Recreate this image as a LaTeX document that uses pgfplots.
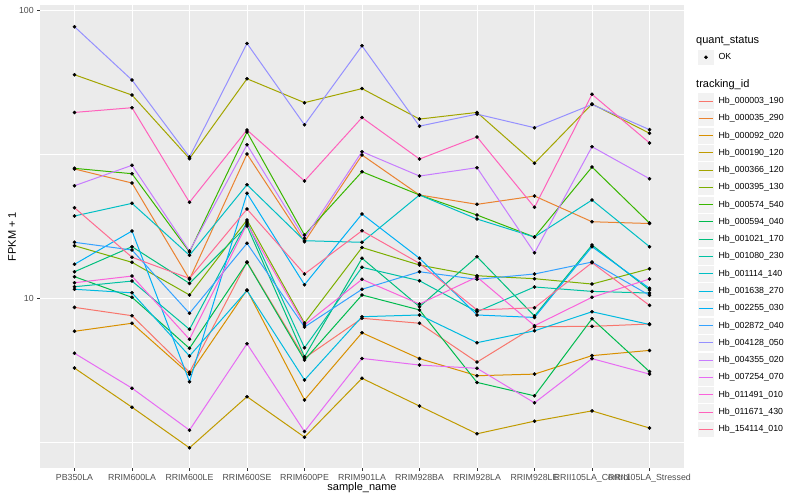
\documentclass[border=0pt]{standalone}
\usepackage{pgfplots}
\usepackage{pgfplotstable}
\usepackage{fontspec}
\setmainfont{Liberation Sans}
\pgfplotsset{compat=1.18}

\definecolor{ggbg}{HTML}{EBEBEB}
\definecolor{ggkey}{HTML}{F2F2F2}
\definecolor{gg30}{HTML}{4D4D4D}
\definecolor{gg20}{HTML}{333333}
\definecolor{c1}{HTML}{F8766D}
\definecolor{c2}{HTML}{EA8331}
\definecolor{c3}{HTML}{D89000}
\definecolor{c4}{HTML}{C09B00}
\definecolor{c5}{HTML}{A3A500}
\definecolor{c6}{HTML}{7CAE00}
\definecolor{c7}{HTML}{39B600}
\definecolor{c8}{HTML}{00BB4E}
\definecolor{c9}{HTML}{00BF7D}
\definecolor{c10}{HTML}{00C1A3}
\definecolor{c11}{HTML}{00BFC4}
\definecolor{c12}{HTML}{00BAE0}
\definecolor{c13}{HTML}{00B0F6}
\definecolor{c14}{HTML}{35A2FF}
\definecolor{c15}{HTML}{9590FF}
\definecolor{c16}{HTML}{C77CFF}
\definecolor{c17}{HTML}{E76BF3}
\definecolor{c18}{HTML}{FA62DB}
\definecolor{c19}{HTML}{FF62BC}
\definecolor{c20}{HTML}{FF6C91}

\newcommand\ggsmall{\fontsize{8.8}{10}\selectfont}
\newcommand\ggbig{\fontsize{11}{13}\selectfont}

% FPKM + 1 per sample (x = sample index 0..10), one column per tracking_id
\pgfplotstableread{
x  s1    s2    s3    s4    s5    s6    s7    s8    s9    s10   s11   s12   s13   s14   s15   s16   s17   s18   s19   s20
0  9.30  28.16 7.68  5.72  59.9  15.24 28.31 11.89 12.37 10.97 19.33 10.75 13.13 15.66 88.0  24.63 6.44  11.33 44.3  20.65
1  8.70  25.17 8.19  4.18  50.9  13.34 27.12 10.08 15.12 11.48 21.39 10.45 17.14 14.72 57.4  29.01 4.87  11.95 46.0  13.89
2  5.53  11.64 5.44  3.02  30.6  10.27 14.49 6.70  11.27 7.80  14.11 6.30  5.13  8.87  31.0  14.60 3.48  7.20  21.57 11.73
3  13.37 31.75 10.69 4.55  58.0  18.72 37.87 13.32 17.84 18.42 24.83 10.64 23.18 15.53 77.0  34.2  6.95  18.13 38.5  20.44
4  6.20  15.73 4.43  3.29  47.9  8.20  16.60 6.10  6.26  6.73  15.86 5.20  11.15 7.95  40.1  16.17 3.44  8.08  25.58 12.15
5  8.52  31.50 7.59  5.27  53.6  15.02 27.55 10.27 13.78 12.82 15.66 8.63  19.64 10.75 75.5  32.35 6.18  11.64 42.5  17.18
6  8.19  22.87 6.17  4.22  42.0  13.05 22.87 9.11  9.35  11.51 22.87 8.75  13.78 12.37 39.7  26.62 5.86  9.55  30.5  13.23
7  6.00  21.22 5.38  3.38  44.3  11.98 19.48 5.10  13.95 8.98  18.87 7.01  8.75  11.64 43.7  28.46 5.71  11.86 36.4  9.11
8  7.97  22.68 5.45  3.74  29.5  11.70 16.33 4.58  8.68  10.95 16.33 7.71  8.58  12.15 39.2  14.40 4.33  8.03  20.72 9.27
9  7.99  18.46 6.32  4.06  47.4  11.21 28.61 8.49  15.32 10.57 21.97 8.98  15.12 13.37 47.2  33.66 6.17  10.08 51.2  13.30
10 8.14  18.20 6.59  3.54  37.5  12.67 18.27 5.56  10.69 10.43 15.12 8.11  10.83 10.24 38.6  26.05 5.45  11.67 34.7  9.45
}\data

\begin{document}
\begin{tikzpicture}
\path[use as bounding box] (-40pt,-32pt) rectangle (760pt,468pt);

\begin{axis}[
  at={(0pt,0pt)}, anchor=south west,
  scale only axis, width=644pt, height=463pt,
  ymode=log,
  xmin=-0.6, xmax=10.6,
  ymin=2.57, ymax=104.7,
  axis background/.style={fill=ggbg},
  axis line style={draw=none},
  xtick={0,...,10},
  xticklabels={PB350LA,RRIM600LA,RRIM600LE,RRIM600SE,RRIM600PE,RRIM901LA,RRIM928BA,RRIM928LA,RRIM928LE,RRII105LA\_Control,RRII105LA\_Stressed},
  ytick={10,100}, yticklabels={10,100},
  minor ytick={3.1623,31.623},
  minor tick length=0pt,
  major tick length=2.75pt,
  tick align=outside, tick pos=left,
  tick style={gg20, line width=0.5pt},
  xticklabel style={font=\ggsmall, text=gg30},
  yticklabel style={font=\ggsmall, text=gg30},
  xmajorgrids, ymajorgrids, yminorgrids,
  major grid style={white, line width=1pt},
  minor grid style={white, line width=0.5pt},
  xlabel={sample\_name},
  ylabel={FPKM + 1},
  xlabel style={at={(axis description cs:0.5,-0.0432)}, anchor=center, font=\ggbig},
  ylabel style={at={(axis description cs:-0.0435,0.5)}, anchor=center, font=\ggbig},
  legend cell align=left,
  legend style={at={(1.0207,0.8113)}, anchor=north west, draw=none, fill=none,
    inner sep=0pt, outer sep=0pt, row sep=0pt, column sep=4pt,
    font=\ggsmall, nodes={inner sep=0pt}},
  legend image code/.code={
    \fill[ggkey, draw=white, line width=0.6pt] (0.3pt,-8.34pt) rectangle (16.98pt,8.34pt);
    \draw (1.2pt,0pt) -- (16.1pt,0pt);
  },
  legend entries={Hb\_000003\_190,Hb\_000035\_290,Hb\_000092\_020,Hb\_000190\_120,Hb\_000366\_120,Hb\_000395\_130,Hb\_000574\_540,Hb\_000594\_040,Hb\_001021\_170,Hb\_001080\_230,Hb\_001114\_140,Hb\_001638\_270,Hb\_002255\_030,Hb\_002872\_040,Hb\_004128\_050,Hb\_004355\_020,Hb\_007254\_070,Hb\_011491\_010,Hb\_011671\_430,Hb\_154114\_010},
]
\pgfplotsinvokeforeach{1,...,20}{
  \addplot[color=c#1, line width=1pt, mark=none] table[x=x, y=s#1] {\data};
}
\pgfplotsinvokeforeach{1,...,20}{
  \addplot[only marks, mark=*, mark size=1.6pt, black, forget plot] table[x=x, y=s#1] {\data};
}
\end{axis}

% quant_status legend
\begin{axis}[
  at={(0pt,0pt)}, anchor=south west,
  scale only axis, width=644pt, height=463pt,
  hide axis, xmin=0, xmax=1, ymin=0, ymax=1,
  legend cell align=left,
  legend style={at={(1.0207,0.9056)}, anchor=north west, draw=none, fill=none,
    inner sep=0pt, outer sep=0pt, row sep=0pt, column sep=4pt,
    font=\ggsmall, nodes={inner sep=0pt}},
  legend image code/.code={
    \fill[ggkey, draw=white, line width=0.6pt] (0.3pt,-8.34pt) rectangle (16.98pt,8.34pt);
    \fill[black] (8.64pt,0pt) circle (1.6pt);
  },
]
\addplot[draw=none, forget plot] coordinates {(0.5,0.5)};
\addlegendimage{black}
\addlegendentry{OK}
\end{axis}

\node[anchor=west, inner sep=0pt, font=\ggbig] at (656pt,427.3pt) {quant\_status};
\node[anchor=west, inner sep=0pt, font=\ggbig] at (656pt,383.7pt) {tracking\_id};
\end{tikzpicture}
\end{document}
